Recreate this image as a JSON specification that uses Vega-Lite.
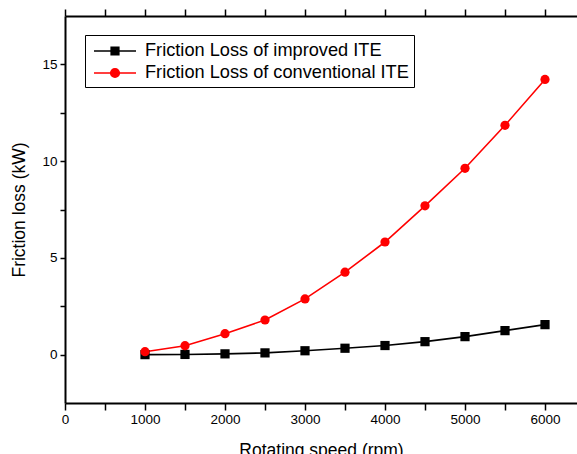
{
  "$schema": "https://vega.github.io/schema/vega-lite/v6.json",
  "autosize": {"type": "none"},
  "padding": {"left": 65, "top": 16, "right": 0, "bottom": 51},
  "width": 512,
  "height": 387,
  "config": {
    "view": {"stroke": null},
    "font": "Liberation Sans",
    "axis": {"grid": false, "domainColor": "black", "domainWidth": 2, "tickColor": "black", "tickWidth": 1.5, "labelColor": "black", "titleColor": "black", "labelFont": "Liberation Sans", "titleFont": "Liberation Sans", "labelFontSize": 13.5, "titleFontSize": 17.5, "titleFontWeight": "normal"},
    "legend": {"orient": "none", "legendX": 20, "legendY": 19, "title": null, "strokeColor": "black", "strokeWidth": 1, "fillColor": "white", "padding": 5, "labelFont": "Liberation Sans", "labelFontSize": 18.2, "labelColor": "black", "labelLimit": 0, "symbolSize": 100, "symbolOffset": 14, "labelOffset": 19, "rowPadding": 2, "symbolStrokeWidth": 1.6}
  },
  "data": {"values": [
    {"speed": 1000, "loss": 0.0, "series": "Friction Loss of improved ITE"},
    {"speed": 1500, "loss": 0.01, "series": "Friction Loss of improved ITE"},
    {"speed": 2000, "loss": 0.04, "series": "Friction Loss of improved ITE"},
    {"speed": 2500, "loss": 0.09, "series": "Friction Loss of improved ITE"},
    {"speed": 3000, "loss": 0.2, "series": "Friction Loss of improved ITE"},
    {"speed": 3500, "loss": 0.33, "series": "Friction Loss of improved ITE"},
    {"speed": 4000, "loss": 0.47, "series": "Friction Loss of improved ITE"},
    {"speed": 4500, "loss": 0.67, "series": "Friction Loss of improved ITE"},
    {"speed": 5000, "loss": 0.93, "series": "Friction Loss of improved ITE"},
    {"speed": 5500, "loss": 1.24, "series": "Friction Loss of improved ITE"},
    {"speed": 6000, "loss": 1.55, "series": "Friction Loss of improved ITE"},
    {"speed": 1000, "loss": 0.15, "series": "Friction Loss of conventional ITE"},
    {"speed": 1500, "loss": 0.46, "series": "Friction Loss of conventional ITE"},
    {"speed": 2000, "loss": 1.08, "series": "Friction Loss of conventional ITE"},
    {"speed": 2500, "loss": 1.79, "series": "Friction Loss of conventional ITE"},
    {"speed": 3000, "loss": 2.88, "series": "Friction Loss of conventional ITE"},
    {"speed": 3500, "loss": 4.26, "series": "Friction Loss of conventional ITE"},
    {"speed": 4000, "loss": 5.82, "series": "Friction Loss of conventional ITE"},
    {"speed": 4500, "loss": 7.69, "series": "Friction Loss of conventional ITE"},
    {"speed": 5000, "loss": 9.63, "series": "Friction Loss of conventional ITE"},
    {"speed": 5500, "loss": 11.85, "series": "Friction Loss of conventional ITE"},
    {"speed": 6000, "loss": 14.22, "series": "Friction Loss of conventional ITE"}
  ]},
  "resolve": {"axis": {"x": "independent", "y": "independent"}},
  "layer": [
    {
      "mark": {"type": "line", "strokeWidth": 1.6},
      "encoding": {
        "x": {"field": "speed", "type": "quantitative", "scale": {"domain": [0, 6400], "nice": false, "zero": false},
          "axis": {"orient": "bottom", "title": "Rotating speed (rpm)", "format": "d", "values": [0,500,1000,1500,2000,2500,3000,3500,4000,4500,5000,5500,6000], "labelExpr": "datum.value % 1000 === 0 ? datum.label : ''", "tickSize": 7, "labelPadding": 2, "titlePadding": 16, "labelFlush": false, "labelOverlap": false,
            "encode": {"ticks": {"update": {"y2": {"signal": "datum.value % 1000 === 0 ? -7 : -4"}}}}}},
        "y": {"field": "loss", "type": "quantitative", "scale": {"domain": [-2.5, 17.5], "nice": false, "zero": false},
          "axis": {"orient": "left", "title": "Friction loss (kW)", "values": [0,2.5,5,7.5,10,12.5,15], "labelExpr": "datum.value % 5 === 0 ? datum.label : ''", "tickSize": 5, "labelPadding": 3, "titlePadding": 13, "labelFlush": false, "labelOverlap": false,
            "encode": {"ticks": {"update": {"x2": {"signal": "datum.value % 5 === 0 ? -5 : -3"}}}}}},
        "color": {"field": "series", "type": "nominal", "scale": {"domain": ["Friction Loss of improved ITE", "Friction Loss of conventional ITE"], "range": ["black", "red"]},
          "legend": {"encode": {"symbols": {"update": {
              "shape": {"signal": "datum.value === 'Friction Loss of improved ITE' ? 'M-2.1,0H2.1M-0.38,-0.38H0.38V0.38H-0.38Z' : 'M-2.1,0H2.1M0.43,0A0.43,0.43,0,1,1,-0.43,0A0.43,0.43,0,1,1,0.43,0Z'"},
              "size": {"value": 400},
              "fill": {"signal": "datum.value === 'Friction Loss of improved ITE' ? 'black' : 'red'"},
              "strokeWidth": {"value": 1.6}
            }}}}},
        "detail": {"field": "series"}
      }
    },
    {
      "mark": {"type": "point", "filled": true, "opacity": 1, "size": 85, "strokeWidth": 0},
      "encoding": {
        "x": {"field": "speed", "type": "quantitative", "axis": null},
        "y": {"field": "loss", "type": "quantitative", "axis": null},
        "fill": {"condition": {"test": "datum.series === 'Friction Loss of improved ITE'", "value": "black"}, "value": "red"},
        "shape": {"condition": {"test": "datum.series === 'Friction Loss of improved ITE'", "value": "square"}, "value": "circle"}
      }
    },
    {
      "mark": {"type": "point", "opacity": 0},
      "encoding": {
        "x": {"field": "speed", "type": "quantitative",
          "axis": {"orient": "top", "title": null, "labels": false, "values": [0,500,1000,1500,2000,2500,3000,3500,4000,4500,5000,5500,6000], "tickSize": 7,
            "encode": {"ticks": {"update": {"y2": {"signal": "datum.value % 1000 === 0 ? 7 : 4"}}}}}}
      }
    }
  ]
}
